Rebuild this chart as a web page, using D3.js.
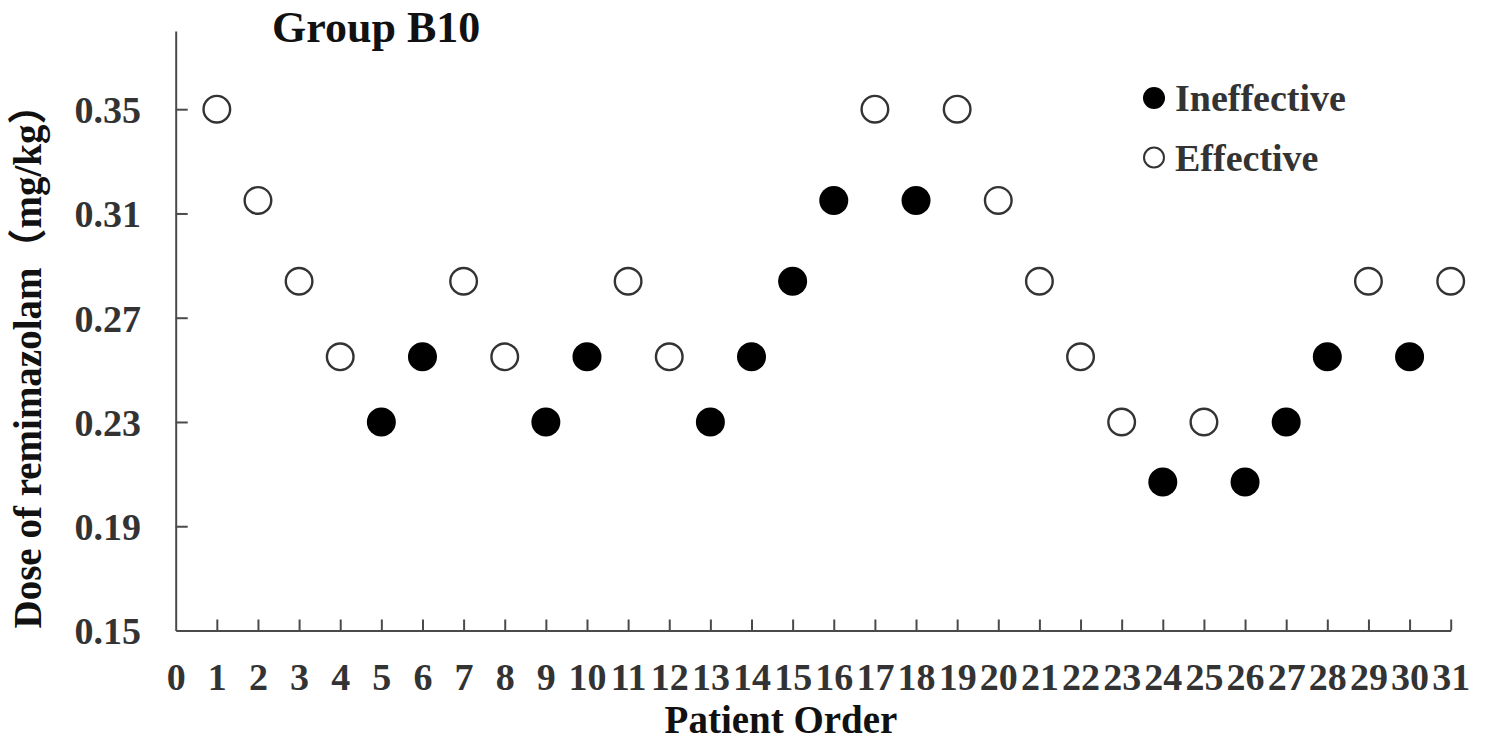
<!DOCTYPE html>
<html>
<head>
<meta charset="utf-8">
<script src="https://cdn.jsdelivr.net/npm/d3@7"></script>
<style>
  html, body { margin: 0; padding: 0; background: #fff; }
  svg { display: block; }
  text { font-family: "Liberation Serif", "Times New Roman", "Noto Sans CJK SC", serif; font-weight: bold; }
</style>
</head>
<body>
<svg id="chart" width="1489" height="742"></svg>
<script>
// ---- data ----
const patientOrder = [1,2,3,4,5,6,7,8,9,10,11,12,13,14,15,16,17,18,19,20,21,22,23,24,25,26,27,28,29,30,31];
const doses = [0.35,0.315,0.284,0.255,0.23,0.255,0.284,0.255,0.23,0.255,0.284,0.255,0.23,0.255,0.284,0.315,0.35,0.315,0.35,0.315,0.284,0.255,0.23,0.207,0.23,0.207,0.23,0.255,0.284,0.255,0.284];
// 1 = Effective (open), 0 = Ineffective (filled)
const effective = [1,1,1,1,0,0,1,1,0,0,1,1,0,0,0,0,1,0,1,1,1,1,1,0,1,0,0,0,1,0,1];
const yTicks = [0.15,0.19,0.23,0.27,0.31,0.35];
const xTicks = d3.range(0, 32);
const legendLabels = ["Ineffective", "Effective"];
const titleText = "Group B10";
const xTitle = "Patient Order";
const yTitle = "Dose of remimazolam（mg/kg）";

// ---- layout ----
const svg = d3.select("#chart");
const x = d3.scaleLinear().domain([0, 31]).range([175.7, 1450.7]);
const y = d3.scaleLinear().domain([0.15, 0.38]).range([630.5, 31]);
const axisColor = "#4a4a4a";
const textColor = "#333";

// x axis
const gx = svg.append("g").attr("transform", `translate(0,${y(0.15)})`)
  .call(d3.axisBottom(x).tickValues(xTicks).tickFormat(d3.format("d")).tickSizeInner(-11).tickSizeOuter(0).tickPadding(22));
gx.select(".domain").attr("stroke", axisColor).attr("stroke-width", 2);
gx.selectAll(".tick line").attr("stroke", axisColor).attr("stroke-width", 2)
  .attr("display", d => d === 0 ? "none" : null);
gx.selectAll(".tick text").attr("font-size", 38).attr("fill", textColor)
  .attr("font-family", "Liberation Serif, Times New Roman, serif").attr("font-weight", "bold")
  .attr("y", 0).attr("dy", 59);

// y axis
const gy = svg.append("g").attr("transform", `translate(${x(0)},0)`)
  .call(d3.axisLeft(y).tickValues(yTicks).tickFormat(d3.format(".2f")).tickSizeInner(-12).tickSizeOuter(0));
gy.select(".domain").attr("stroke", axisColor).attr("stroke-width", 2);
gy.selectAll(".tick line").attr("stroke", axisColor).attr("stroke-width", 2)
  .attr("display", d => d === 0.15 ? "none" : null);
gy.selectAll(".tick text").attr("font-size", 38).attr("fill", textColor)
  .attr("font-family", "Liberation Serif, Times New Roman, serif").attr("font-weight", "bold")
  .attr("x", 141 - x(0)).attr("dy", "0.35em").attr("text-anchor", "end");

// points
const pts = patientOrder.map((p, i) => ({ p, d: doses[i], e: effective[i] }));
svg.append("g").selectAll("circle").data(pts).join("circle")
  .attr("cx", d => x(d.p)).attr("cy", d => y(d.d))
  .attr("r", d => d.e ? 13.3 : 14.5)
  .attr("fill", d => d.e ? "#fff" : "#000")
  .attr("stroke", d => d.e ? "#333" : "none")
  .attr("stroke-width", 2.4);

// title
svg.append("text").attr("x", 272).attr("y", 42).attr("font-size", 44).attr("fill", "#111").text(titleText);

// axis titles
svg.append("text").attr("x", 781).attr("y", 733).attr("text-anchor", "middle")
  .attr("font-size", 39).attr("fill", "#111").text(xTitle);
svg.append("text").attr("transform", "translate(41,357) rotate(-90)").attr("text-anchor", "middle")
  .attr("font-size", 39).attr("fill", "#111").text(yTitle);

// legend
const lg = svg.append("g");
const legendY = [98, 157.5];
legendLabels.forEach((lab, i) => {
  lg.append("circle").attr("cx", 1154).attr("cy", legendY[i]).attr("r", i === 0 ? 11 : 10)
    .attr("fill", i === 0 ? "#000" : "#fff").attr("stroke", i === 0 ? "none" : "#333").attr("stroke-width", 2);
  lg.append("text").attr("x", 1175).attr("y", legendY[i]).attr("dy", "0.35em")
    .attr("font-size", 38).attr("fill", textColor).text(lab);
});
</script>
</body>
</html>
